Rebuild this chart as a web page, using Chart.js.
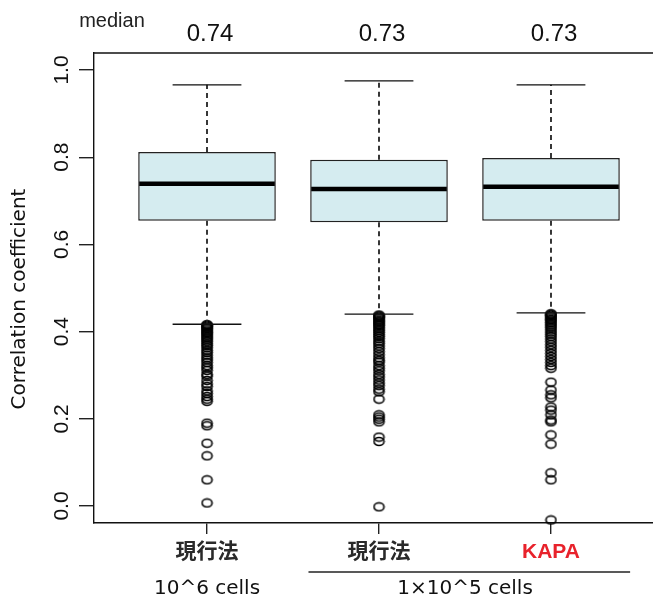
<!DOCTYPE html>
<html>
<head>
<meta charset="utf-8">
<script src="https://cdn.jsdelivr.net/npm/chart.js@4.4.1/dist/chart.umd.min.js"></script>
<style>
  html, body { margin: 0; padding: 0; background: #fff; overflow: hidden; }
  #wrap { width: 680px; height: 599px; }
</style>
</head>
<body>
<div id="wrap"><canvas id="boxChart" width="680" height="599"></canvas></div>
<script>
// categories and group labels
const categories = ['現行法', '現行法', 'KAPA'];
const groupLabels = ['10^6 cells', '1×10^5 cells'];
const medianLabels = ['0.74', '0.73', '0.73'];
const yTicks = [0.0, 0.2, 0.4, 0.6, 0.8, 1.0];

// box statistics
const whiskerLow = [0.417, 0.440, 0.443];
const q1 = [0.654, 0.651, 0.654];
const median = [0.739, 0.727, 0.732];
const q3 = [0.812, 0.794, 0.798];
const whiskerHigh = [0.966, 0.975, 0.966];

// outliers per box
const outliers1 = [0.416, 0.414, 0.412, 0.410, 0.407, 0.404, 0.401, 0.398, 0.395, 0.392,
  0.388, 0.385, 0.381, 0.377, 0.372, 0.368, 0.363, 0.357, 0.352, 0.346, 0.340, 0.335,
  0.329, 0.322, 0.317, 0.311, 0.302, 0.298, 0.288, 0.280, 0.274, 0.264, 0.258, 0.251,
  0.245, 0.240, 0.190, 0.184, 0.144, 0.115, 0.060, 0.007];
const outliers2 = [0.438, 0.436, 0.434, 0.432, 0.429, 0.426, 0.423, 0.420, 0.417, 0.414,
  0.410, 0.406, 0.402, 0.398, 0.393, 0.389, 0.384, 0.378, 0.373, 0.367, 0.361, 0.354,
  0.347, 0.340, 0.334, 0.330, 0.322, 0.316, 0.310, 0.302, 0.296, 0.289, 0.282, 0.276,
  0.268, 0.262, 0.245, 0.209, 0.204, 0.199, 0.193, 0.158, 0.148, -0.002];
const outliers3 = [0.441, 0.439, 0.437, 0.434, 0.431, 0.428, 0.425, 0.421, 0.417, 0.413,
  0.409, 0.404, 0.399, 0.394, 0.389, 0.383, 0.377, 0.370, 0.364, 0.357, 0.350, 0.343,
  0.336, 0.329, 0.322, 0.316, 0.284, 0.266, 0.255, 0.248, 0.227, 0.220, 0.209, 0.197,
  0.193, 0.163, 0.142, 0.076, 0.060, -0.032];

const outlierSets = [outliers1, outliers2, outliers3];
const outlierPoints = [];
outlierSets.forEach((set, i) => set.forEach(v => outlierPoints.push({x: i + 1, y: v})));

// little open ellipse for the outlier marks
const ring = document.createElement('canvas');
ring.width = 13; ring.height = 11;
(function() {
    const c = ring.getContext('2d');
    c.strokeStyle = '#000';
    c.lineWidth = 1.6;
    c.beginPath();
    c.ellipse(6.5, 5.5, 5, 4, 0, 0, Math.PI * 2);
    c.stroke();
})();

const boxParts = {
    id: 'boxParts',
    afterDatasetsDraw(chart) {
        const ctx = chart.ctx;
        const xs = chart.scales.x, ys = chart.scales.y;
        const bars = chart.getDatasetMeta(0).data;
        ctx.save();
        categories.forEach((c, i) => {
            const x = xs.getPixelForValue(i + 1);
            const capHalf = xs.getPixelForValue(i + 1.2) - x;
            const half = bars[i].width / 2;
            // dashed whiskers
            ctx.strokeStyle = '#222';
            ctx.lineWidth = 1.8;
            ctx.setLineDash([5, 4]);
            ctx.beginPath();
            ctx.moveTo(x, ys.getPixelForValue(q3[i]));
            ctx.lineTo(x, ys.getPixelForValue(whiskerHigh[i]));
            ctx.moveTo(x, ys.getPixelForValue(q1[i]));
            ctx.lineTo(x, ys.getPixelForValue(whiskerLow[i]));
            ctx.stroke();
            ctx.setLineDash([]);
            // caps
            ctx.strokeStyle = '#111';
            ctx.lineWidth = 1.4;
            ctx.beginPath();
            [whiskerHigh[i], whiskerLow[i]].forEach(v => {
                const y = ys.getPixelForValue(v);
                ctx.moveTo(x - capHalf, y);
                ctx.lineTo(x + capHalf, y);
            });
            ctx.stroke();
            // median
            ctx.strokeStyle = '#000';
            ctx.lineWidth = 4.5;
            ctx.beginPath();
            const my = ys.getPixelForValue(median[i]);
            ctx.moveTo(x - half + 1, my);
            ctx.lineTo(x + half - 1, my);
            ctx.stroke();
        });
        ctx.restore();
    },
    afterDraw(chart) {
        const ctx = chart.ctx;
        const xs = chart.scales.x, ys = chart.scales.y;
        const area = chart.chartArea;
        ctx.save();
        // top frame line
        ctx.strokeStyle = '#111';
        ctx.lineWidth = 1.4;
        ctx.beginPath();
        ctx.moveTo(area.left, area.top);
        ctx.lineTo(chart.width, area.top);
        ctx.stroke();

        // y tick labels, rotated like R
        ctx.fillStyle = '#111';
        ctx.font = '21px "Liberation Sans", Arial, sans-serif';
        ctx.textAlign = 'center';
        ctx.textBaseline = 'middle';
        ys.ticks.forEach(t => {
            ctx.save();
            ctx.translate(62, ys.getPixelForValue(t.value));
            ctx.rotate(-Math.PI / 2);
            ctx.fillText(t.value.toFixed(1), 0, 0);
            ctx.restore();
        });

        // y title
        ctx.save();
        ctx.font = '20px "DejaVu Sans", sans-serif';
        ctx.translate(20, 299);
        ctx.rotate(-Math.PI / 2);
        ctx.fillText('Correlation coefficient', 0, 0);
        ctx.restore();

        // median values above the plot
        ctx.font = '24px "Liberation Sans", Arial, sans-serif';
        medianLabels.forEach((m, i) => {
            ctx.fillText(m, xs.getPixelForValue(i + 1) + 3, 34);
        });
        ctx.fillStyle = '#222';
        ctx.font = '20px "Liberation Sans", Arial, sans-serif';
        ctx.fillText('median', 112, 21);

        // group labels under the categories
        ctx.fillStyle = '#111';
        ctx.font = '20px "DejaVu Sans", sans-serif';
        ctx.fillText(groupLabels[0], xs.getPixelForValue(1), 589);
        ctx.fillText(groupLabels[1], (xs.getPixelForValue(2) + xs.getPixelForValue(3)) / 2, 589);
        ctx.strokeStyle = '#222';
        ctx.lineWidth = 1.4;
        ctx.beginPath();
        ctx.moveTo(xs.getPixelForValue(1.59), 572);
        ctx.lineTo(xs.getPixelForValue(3.46), 572);
        ctx.stroke();
        ctx.restore();
    }
};

new Chart(document.getElementById('boxChart').getContext('2d'), {
    type: 'bar',
    data: {
        datasets: [{
            type: 'bar',
            data: q1.map((v, i) => ({x: i + 1, y: [v, q3[i]]})),
            backgroundColor: '#d5ecf0',
            borderColor: '#222',
            borderWidth: 1.5,
            borderSkipped: false,
            barPercentage: 0.8,
            categoryPercentage: 1,
            order: 2
        }, {
            type: 'scatter',
            data: outlierPoints,
            pointStyle: ring,
            pointRadius: 5,
            clip: false,
            order: 1
        }]
    },
    options: {
        responsive: false,
        animation: false,
        layout: { padding: { top: 53, right: 16, left: 0, bottom: 0 } },
        plugins: {
            legend: { display: false },
            tooltip: { enabled: false }
        },
        scales: {
            x: {
                type: 'linear',
                min: 0.343,
                max: 3.657,
                offset: false,
                afterBuildTicks: s => { s.ticks = categories.map((c, i) => ({value: i + 1})); },
                afterFit: s => { s.height = 76; },
                grid: {
                    offset: false,
                    drawOnChartArea: false,
                    drawTicks: true,
                    tickLength: 11,
                    color: '#222',
                    lineWidth: 1.4
                },
                border: { display: true, color: '#111', width: 1.4 },
                ticks: {
                    padding: 6,
                    maxRotation: 0,
                    autoSkip: false,
                    font: { family: '"Liberation Sans", "Noto Sans CJK JP", sans-serif', size: 21, weight: 'bold' },
                    color: c => c.index === 2 ? '#e8222b' : '#2a2a2a',
                    callback: (v, i) => categories[i]
                }
            },
            y: {
                min: -0.039,
                max: 1.039,
                afterBuildTicks: s => { s.ticks = yTicks.map(v => ({value: v})); },
                afterFit: s => { s.width = 94; },
                grid: {
                    drawOnChartArea: false,
                    drawTicks: true,
                    tickLength: 15,
                    color: '#222',
                    lineWidth: 1.4
                },
                border: { display: true, color: '#111', width: 1.4 },
                ticks: { display: false }
            }
        }
    },
    plugins: [boxParts]
});
</script>
</body>
</html>
